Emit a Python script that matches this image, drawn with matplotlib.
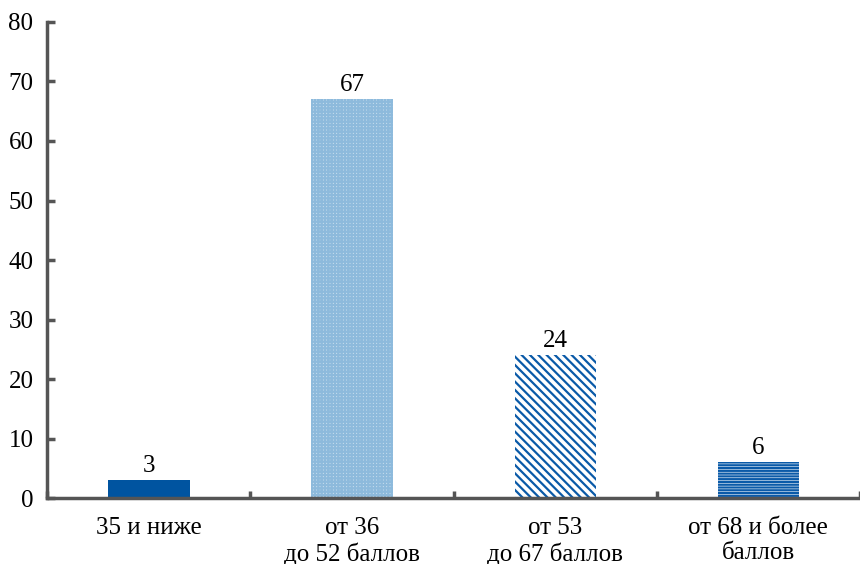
import matplotlib.pyplot as plt
import numpy as np

categories = ["35 и ниже", "от 36\nдо 52 баллов", "от 53\nдо 67 баллов", "от 68 и более\nбаллов"]
values = [3, 67, 24, 6]

plt.rcParams['font.family'] = ['Liberation Serif', 'DejaVu Serif']
plt.rcParams['hatch.linewidth'] = 1.6

fig = plt.figure(figsize=(8.6, 5.64), dpi=100)
ax = fig.add_axes([0.055, 0.117, 0.945, 0.844])

x = np.arange(len(values))
styles = [
    dict(color='#0054a0'),
    dict(facecolor='#cfe2f0', edgecolor='#8dbadc', hatch='+++++', linewidth=0),
    dict(facecolor='white', edgecolor='#0a5aa8', hatch='\\\\\\\\', linewidth=0),
    dict(facecolor='white', edgecolor='#0a5aa8', hatch='------', linewidth=0),
]
for i, v in enumerate(values):
    ax.bar(x[i], v, width=0.4, **styles[i])
    ax.text(x[i], v + 0.5, str(v), ha='center', va='bottom', fontsize=18)

ax.set_xlim(-0.5, len(values) - 0.5)
ax.set_ylim(0, 80)
ax.set_yticks(range(0, 81, 10))
ax.set_xticks(x)
ax.set_xticklabels(categories, fontsize=18, linespacing=1.15)
ax.set_xticks(np.arange(-0.5, len(values)), minor=True)
ax.tick_params(axis='x', which='major', length=0, pad=14)
ax.tick_params(axis='x', which='minor', direction='in', length=5, width=2.5, color='#555555')
ax.tick_params(axis='y', direction='in', length=6, width=2.5, color='#555555', labelsize=18, pad=10)

for s in ['top', 'right']:
    ax.spines[s].set_visible(False)
for s in ['left', 'bottom']:
    ax.spines[s].set_color('#555555')
    ax.spines[s].set_linewidth(2.5)

fig.savefig('out.png', dpi=100)
